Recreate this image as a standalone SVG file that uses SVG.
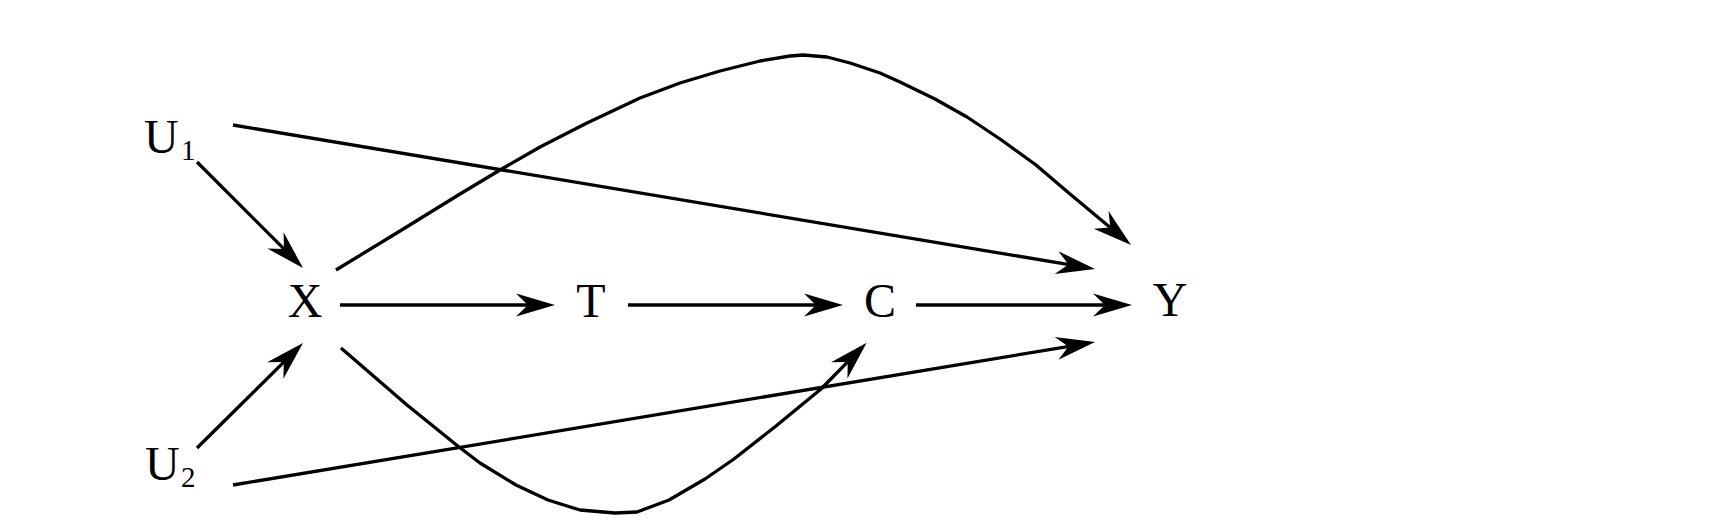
<svg xmlns="http://www.w3.org/2000/svg" width="1728" height="524" viewBox="0 0 1728 524">
<style>
.lbl{font-family:"Liberation Serif","Times New Roman",serif;font-size:48px;fill:#000}
.sub{font-family:"Liberation Serif","Times New Roman",serif;font-size:29px;fill:#000}
.e{fill:none;stroke:#000;stroke-width:3.3;stroke-linejoin:round;marker-end:url(#arr)}
</style>
<defs>
<marker id="arr" markerUnits="userSpaceOnUse" markerWidth="60" markerHeight="40" viewBox="-30 -20 60 40" refX="0" refY="0" orient="auto" overflow="visible">
<path d="M20,0 L-19,-11.5 L-7,0 L-19,11.5 Z" fill="#000"/>
</marker>
</defs>
<rect width="1728" height="524" fill="#fff"/>
<g id="connectors">
<path class="e" d="M233,125 L1075.3,265.7"/>
<path class="e" d="M197,162 L288.9,253.9"/>
<path class="e" d="M197,448 L288.8,357.1"/>
<path class="e" d="M233,485 L1075.3,345.3"/>
<path class="e" d="M340,305 L535,305"/>
<path class="e" d="M628,305 L823,305"/>
<path class="e" d="M916,305 L1112,305"/>
<path class="e" d="M336,270 L400,231 L460,194 L500,170 L540,147 L587,123 L640,98 L680,83 L720,71 L760,61 L790,56 L803,55 L827,57 L850,63 L880,73 L900,82 L935,99 L967,117 L1000,139 L1036,165 L1070,194 L1100,219 L1115.7,232.1"/>
<path class="e" d="M341,348 L407,405 L459,447 L480,463 L516,485 L548,500 L580,510 L615,513 L637,512 L669,500 L705,479 L734,459 L776,426 L821,389 L852.6,356.9"/>
</g>
<g id="U1"><text class="lbl" x="144" y="153">U</text><text class="sub" x="181" y="160">1</text></g>
<g id="U2"><text class="lbl" x="145" y="480">U</text><text class="sub" x="181" y="487">2</text></g>
<g id="X"><text class="lbl" x="305" y="317" text-anchor="middle">X</text></g>
<g id="T"><text class="lbl" x="591" y="317" text-anchor="middle">T</text></g>
<g id="C"><text class="lbl" x="880" y="317" text-anchor="middle">C</text></g>
<g id="Y"><text class="lbl" x="1170" y="316" text-anchor="middle">Y</text></g>
</svg>
